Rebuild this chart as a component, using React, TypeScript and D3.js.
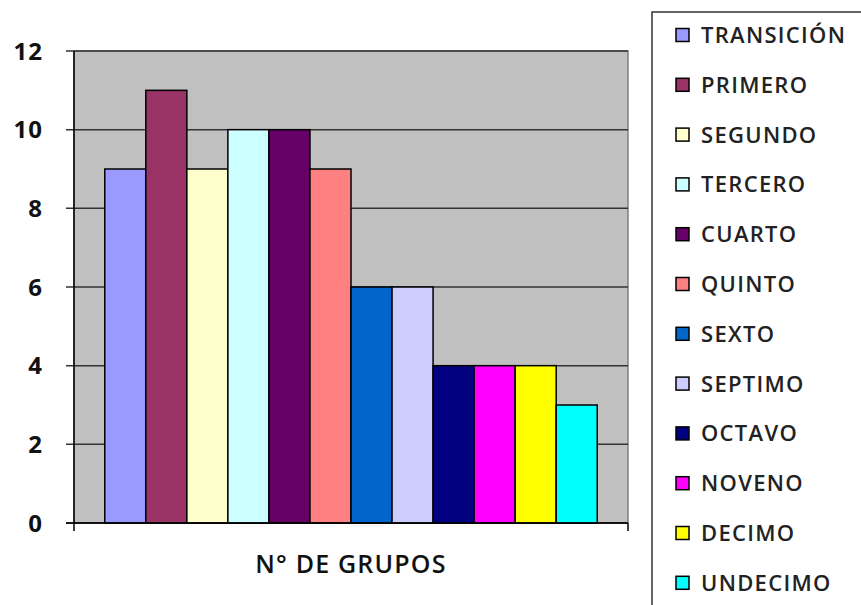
import { scaleBand, scaleLinear } from "d3";

// datos del gráfico
const categoria = "N° DE GRUPOS";
const grados = [
  "TRANSICIÓN",
  "PRIMERO",
  "SEGUNDO",
  "TERCERO",
  "CUARTO",
  "QUINTO",
  "SEXTO",
  "SEPTIMO",
  "OCTAVO",
  "NOVENO",
  "DECIMO",
  "UNDECIMO",
];
const grupos = [9, 11, 9, 10, 10, 9, 6, 6, 4, 4, 4, 3];
const colores = [
  "#9999FF",
  "#993366",
  "#FFFFCC",
  "#CCFFFF",
  "#660066",
  "#FF8080",
  "#0066CC",
  "#CCCCFF",
  "#000080",
  "#FF00FF",
  "#FFFF00",
  "#00FFFF",
];
const ticksY = [0, 2, 4, 6, 8, 10, 12];

const W = 861,
  H = 605;
const marginLeft = 74,
  marginRight = 233,
  marginTop = 51,
  marginBottom = 82;

const FONT = "'Open Sans', 'DejaVu Sans', sans-serif";

const App = () => {
  const y = scaleLinear([0, 12], [H - marginBottom, marginTop]);
  const x = scaleBand(grados, [marginLeft, W - marginRight])
    .paddingInner(0)
    .paddingOuter(0.75);

  const legendX = 652,
    legendY = 12,
    legendStep = 49.8;

  return (
    <div style={{ position: "absolute", left: 0, top: 0 }}>
      <svg width={W} height={H} style={{ display: "block", background: "#fff" }}>
        {/* area del grafico */}
        <rect
          x={marginLeft}
          y={marginTop}
          width={W - marginRight - marginLeft}
          height={H - marginBottom - marginTop}
          fill="#C0C0C0"
          stroke="#808080"
          strokeWidth={1.5}
        />
        {/* lineas de division */}
        {ticksY.map((t) => (
          <g key={t}>
            <line
              x1={marginLeft - 8}
              x2={W - marginRight}
              y1={y(t)}
              y2={y(t)}
              stroke="#333"
              strokeWidth={1.5}
            />
            <text
              x={43}
              y={y(t)}
              dy="0.36em"
              textAnchor="end"
              fontFamily={FONT}
              fontWeight={700}
              fontSize={24}
              letterSpacing={1}
              fill="#111"
            >
              {t}
            </text>
          </g>
        ))}
        {/* barras */}
        {grupos.map((d, i) => (
          <rect
            key={grados[i]}
            x={x(grados[i]) as number}
            y={y(d)}
            width={x.bandwidth()}
            height={y(0) - y(d)}
            fill={colores[i]}
            stroke="#000"
            strokeWidth={1.5}
          />
        ))}
        {/* ejes */}
        <line
          x1={marginLeft}
          x2={marginLeft}
          y1={marginTop}
          y2={y(0) + 8}
          stroke="#000"
          strokeWidth={1.5}
        />
        <line
          x1={marginLeft - 8}
          x2={W - marginRight}
          y1={y(0)}
          y2={y(0)}
          stroke="#000"
          strokeWidth={1.5}
        />
        <line
          x1={W - marginRight}
          x2={W - marginRight}
          y1={y(0)}
          y2={y(0) + 8}
          stroke="#000"
          strokeWidth={1.5}
        />
        <text
          x={351}
          y={573}
          textAnchor="middle"
          fontFamily={FONT}
          fontWeight={600}
          fontSize={25}
          letterSpacing={1.2}
          fill="#111"
        >
          {categoria}
        </text>
        {/* leyenda */}
        <rect
          x={legendX}
          y={legendY}
          width={W - legendX + 10}
          height={H}
          fill="#fff"
          stroke="#333"
          strokeWidth={1.5}
        />
        {grados.map((g, i) => {
          const cy = 35 + i * legendStep;
          return (
            <g key={g}>
              <rect
                x={676}
                y={cy - 6.5}
                width={13}
                height={13}
                fill={colores[i]}
                stroke="#000"
                strokeWidth={1.5}
              />
              <text
                x={701}
                y={cy}
                dy="0.36em"
                fontFamily={FONT}
                fontWeight={600}
                fontSize={22}
                letterSpacing={1.3}
                fill="#222"
              >
                {g}
              </text>
            </g>
          );
        })}
      </svg>
    </div>
  );
};

export default App;
